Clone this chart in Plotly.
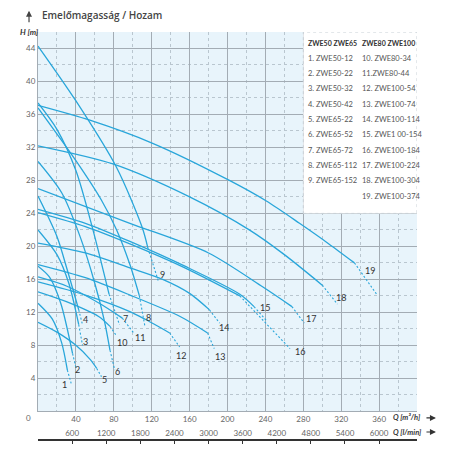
import plotly.graph_objects as go

# Szivattyú jelleggörbék: Q [m3/h] -> H [m]
# folytonos szakasz pontjai, majd a szaggatott végpont
solid_q = [
    [0, 15, 25, 31],
    [0, 12, 24, 36.5],
    [0, 20, 32.6, 43],
    [0, 20, 31, 43],
    [0, 20, 40, 55, 62],
    [0, 25, 45, 60, 70, 76],
    [0, 20, 40, 58, 75],
    [0, 40, 67, 83, 97, 107],
    [0, 39.7, 82.8, 110, 116],
    [0, 30, 64, 76],
    [0, 30, 64.7, 89],
    [0, 50, 97, 114, 139],
    [0, 50, 97, 150, 179],
    [0, 50, 97, 131.6, 160, 181],
    [0, 50, 97, 155, 213, 228],
    [0, 50, 97, 155, 213],
    [0, 97, 180, 237, 268],
    [0, 79, 160, 223, 260, 300],
    [0, 54.7, 121, 202, 241, 276, 307, 334],
]
solid_h = [
    [13.1, 11.2, 8.3, 5.0],
    [17.6, 16.3, 13.1, 7.0],
    [22.0, 19.0, 15.5, 10.5],
    [26.1, 21.2, 17.1, 12.3],
    [10.8, 9.6, 8.0, 6.3, 5.2],
    [30.3, 26.5, 21.0, 15.5, 11.0, 7.4],
    [37.4, 34.2, 29.2, 22.0, 14.2],
    [36.8, 30.4, 25.6, 22.0, 17.8, 14.0],
    [44.3, 37.7, 29.6, 22.3, 19.8],
    [14.5, 13.3, 11.5, 10.3],
    [16.3, 15.2, 13.1, 11.3],
    [15.7, 14.1, 12.1, 11.1, 9.5],
    [17.8, 16.2, 14.1, 11.5, 9.5],
    [20.4, 19.2, 17.4, 16.0, 14.3, 12.3],
    [24.5, 22.8, 20.6, 17.6, 14.2, 12.7],
    [24.1, 22.4, 20.3, 17.4, 14.0],
    [27.0, 22.8, 19.2, 15.1, 12.7],
    [32.2, 30.0, 26.0, 22.0, 19.0, 15.3],
    [37.1, 35.3, 32.5, 28.0, 25.5, 22.8, 20.3, 18.0],
]
dash_q = [35, 40, 47, 47, 67, 81, 86, 113, 127, 82, 101, 149.5, 186, 191.6, 242, 266, 281, 316, 358]
dash_h = [3.4, 5.3, 8.0, 10.5, 4.2, 5.0, 10.5, 10.2, 15.8, 9.3, 9.5, 7.8, 7.6, 10.7, 10.9, 7.6, 10.7, 13.0, 14.1]

# görbeszámok helye
label_q = [28, 42, 50.5, 50, 70.5, 84, 92.5, 117, 131, 89, 108, 150.5, 192.5, 196, 240, 276, 288, 320, 350]
label_h = [3.2, 5.1, 8.5, 11.1, 3.9, 4.8, 11.3, 11.4, 16.6, 8.3, 9.0, 6.8, 6.7, 10.2, 12.6, 7.2, 11.3, 13.8, 17.1]

legend_col1 = ["1. ZWE50-12", "2. ZWE50-22", "3. ZWE50-32", "4. ZWE50-42", "5. ZWE65-22",
               "6. ZWE65-52", "7. ZWE65-72", "8. ZWE65-112", "9. ZWE65-152"]
legend_col2 = ["10. ZWE80-34", "11.ZWE80-44", "12. ZWE100-54", "13. ZWE100-74", "14. ZWE100-114",
               "15. ZWE1 00-154", "16. ZWE100-184", "17. ZWE100-224", "18. ZWE100-304", "19. ZWE100-374"]

h_ticks = [4, 8, 12, 16, 20, 24, 28, 32, 36, 40, 44]
q_ticks = [40, 80, 120, 160, 200, 240, 280, 320, 360]
lmin_ticks = [600, 1200, 1800, 2400, 3000, 3600, 4200, 4800, 5400, 6000]

CURVE = "#29a6da"
TXT = "#444444"
NARROW = "Lato, Roboto, sans-serif"

fig = go.Figure()

for i in range(len(solid_q)):
    fig.add_trace(go.Scatter(
        x=solid_q[i], y=solid_h[i], mode="lines",
        line=dict(color=CURVE, width=1.3, shape="spline", smoothing=0.8),
        hoverinfo="skip", showlegend=False,
    ))
    fig.add_trace(go.Scatter(
        x=[solid_q[i][-1], dash_q[i]], y=[solid_h[i][-1], dash_h[i]], mode="lines",
        line=dict(color=CURVE, width=1.1, dash="2px,2px"),
        hoverinfo="skip", showlegend=False,
    ))

# l/min tengely (üres trace, hogy a tengely megjelenjen)
fig.add_trace(go.Scatter(x=[lmin_ticks[0]], y=[None], xaxis="x2", mode="markers",
                         showlegend=False, hoverinfo="skip"))

for i in range(len(label_q)):
    fig.add_annotation(x=label_q[i], y=label_h[i], text=str(i + 1), showarrow=False,
                       font=dict(family=NARROW, size=9, color="#333"))

# jelmagyarázat doboz
fig.add_shape(type="rect", x0=280, x1=400, y0=24, y1=46, xref="x", yref="y",
              fillcolor="white", line=dict(color="#c8d0d6", width=1, dash="dot"), layer="above")
fig.add_annotation(x=283, y=44.7, text="<b>ZWE50 ZWE65</b>", showarrow=False, xanchor="left",
                   font=dict(family=NARROW, size=7, color="#333"))
fig.add_annotation(x=340, y=44.7, text="<b>ZWE80 ZWE100</b>", showarrow=False, xanchor="left",
                   font=dict(family=NARROW, size=7, color="#333"))
for i, t in enumerate(legend_col1):
    fig.add_annotation(x=283, y=42.8 - 1.855 * i, text=t, showarrow=False, xanchor="left",
                       font=dict(family=NARROW, size=7.5, color="#555"))
for i, t in enumerate(legend_col2):
    fig.add_annotation(x=340, y=42.8 - 1.855 * i, text=t, showarrow=False, xanchor="left",
                       font=dict(family=NARROW, size=7.5, color="#555"))

# cím és tengelyfeliratok
fig.add_annotation(xref="paper", yref="paper", x=0.005, y=1.042, text="Emelőmagasság / Hozam",
                   showarrow=False, xanchor="left", yanchor="middle",
                   font=dict(family="Open Sans, sans-serif", size=10, color=TXT, weight=600))
fig.add_annotation(xref="paper", yref="paper", x=-0.0237, y=1.052, ax=0, ay=13,
                   showarrow=True, arrowhead=2, arrowsize=1, arrowwidth=1.2, arrowcolor=TXT, text="")
fig.add_annotation(xref="paper", yref="paper", x=-0.022, y=1.0, text="H [m]", showarrow=False,
                   xanchor="center", yanchor="middle",
                   font=dict(family=NARROW, size=8, color="#333", style="italic", weight="bold"))
fig.add_annotation(xref="paper", yref="paper", x=-0.024, y=0.054, text="0", showarrow=False,
                   xanchor="center", yanchor="middle", font=dict(family=NARROW, size=8, color="#666"))
fig.add_annotation(xref="paper", yref="paper", x=0.932, y=0.054, text="Q [m³/h]", showarrow=False,
                   xanchor="left", yanchor="middle",
                   font=dict(family=NARROW, size=7.5, color="#333", style="italic", weight="bold"))
fig.add_annotation(xref="paper", yref="paper", x=0.932, y=0.0196, text="Q [l/min]", showarrow=False,
                   xanchor="left", yanchor="middle",
                   font=dict(family=NARROW, size=7.5, color="#333", style="italic", weight="bold"))
for yy in (0.054, 0.0196):
    fig.add_annotation(xref="paper", yref="paper", x=1.05, y=yy, ax=-11, ay=0, text="",
                       showarrow=True, arrowhead=2, arrowsize=1, arrowwidth=1.2, arrowcolor="#333")

# az oldal 8 px-es margóját a méretben ellensúlyozzuk
fig.update_layout(
    width=448, height=448,
    margin=dict(l=30, r=39, t=24, b=16, autoexpand=False),
    paper_bgcolor="white", plot_bgcolor="#e8f4fb",
    xaxis=dict(range=[0, 400], tickmode="array", tickvals=q_ticks, showgrid=True,
               gridcolor="#a3acb4", gridwidth=1, zeroline=False, showline=True, linecolor="#a3acb4",
               ticks="", ticklen=0, tickfont=dict(family=NARROW, size=8, color="#666"), anchor="y",
               automargin=False,
               minor=dict(dtick=20, tick0=0, showgrid=True, gridcolor="#b9c6cf", griddash="dot", gridwidth=1)),
    yaxis=dict(range=[0, 46], domain=[0.0703, 1], tickmode="array", tickvals=h_ticks, showgrid=True,
               gridcolor="#a3acb4", gridwidth=1, zeroline=False, showline=True, linecolor="#a3acb4",
               ticks="", ticklen=0, tickfont=dict(family=NARROW, size=8, color="#666"), automargin=False,
               minor=dict(dtick=2, tick0=0, showgrid=True, gridcolor="#b9c6cf", griddash="dot", gridwidth=1)),
    xaxis2=dict(range=[0, 400 * 1000 / 60], overlaying="x", anchor="free", position=0, side="top",
                tickmode="array", tickvals=lmin_ticks, showgrid=False, zeroline=False, automargin=False,
                showline=True, linecolor="#333", linewidth=1.5, ticks="inside", ticklen=3,
                tickcolor="#333", tickfont=dict(family=NARROW, size=8, color="#666")),
)

fig.write_html("out.html")
